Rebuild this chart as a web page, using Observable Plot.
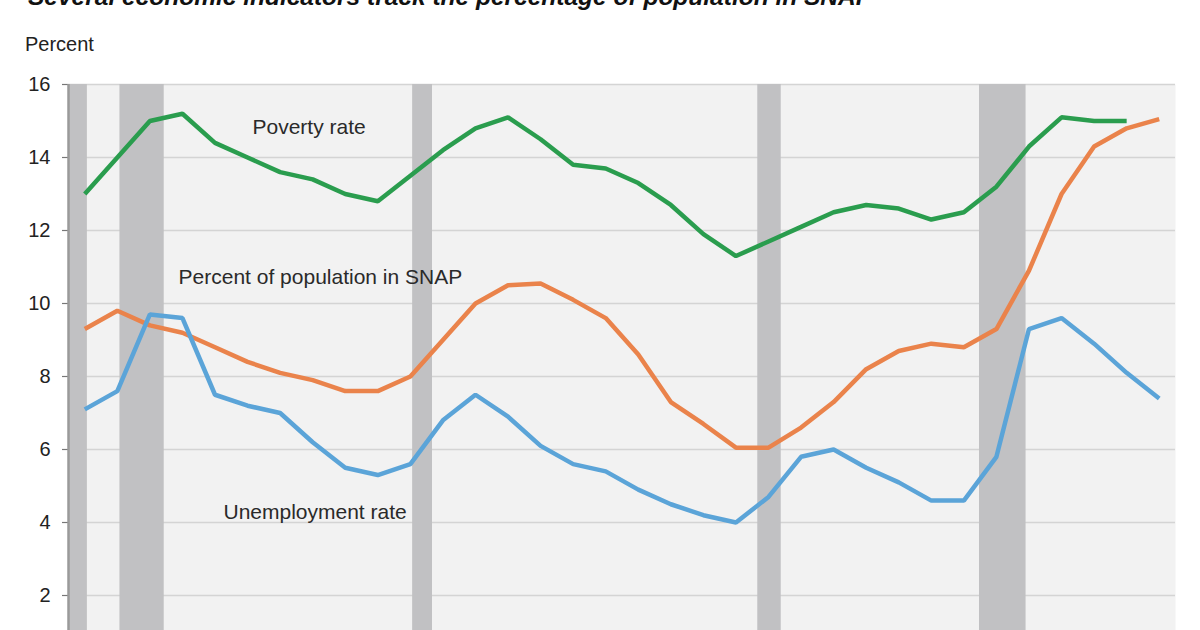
<!DOCTYPE html>
<html>
<head>
<meta charset="utf-8">
<script src="https://cdn.jsdelivr.net/npm/d3@7"></script>
<script src="https://cdn.jsdelivr.net/npm/@observablehq/plot@0.6"></script>
<style>
  html, body { margin: 0; padding: 0; background: #fff; width: 1200px; height: 630px; overflow: hidden; }
  body { font-family: "Liberation Sans", Arial, Helvetica, sans-serif; position: relative; }
  #title { position: absolute; left: 28px; top: -15px; font-size: 24.5px; line-height: 24.5px; font-weight: bold; font-style: italic; color: #111; white-space: nowrap; }
  #unit { position: absolute; left: 25px; top: 34px; font-size: 20px; line-height: 20px; color: #222; }
  #chart { position: absolute; left: 0; top: 0; }
</style>
</head>
<body>
<div id="chart"></div>
<div id="title">Several economic indicators track the percentage of population in SNAP</div>
<div id="unit">Percent</div>
<script>
const years = d3.range(1980, 2014);
const povertyRate = [13.0, 14.0, 15.0, 15.2, 14.4, 14.0, 13.6, 13.4, 13.0, 12.8,
  13.5, 14.2, 14.8, 15.1, 14.5, 13.8, 13.7, 13.3, 12.7, 11.9,
  11.3, 11.7, 12.1, 12.5, 12.7, 12.6, 12.3, 12.5, 13.2, 14.3,
  15.1, 15.0, 15.0, null];
const snapPercent = [9.3, 9.8, 9.4, 9.2, 8.8, 8.4, 8.1, 7.9, 7.6, 7.6,
  8.0, 9.0, 10.0, 10.5, 10.55, 10.1, 9.6, 8.6, 7.3, 6.7,
  6.05, 6.05, 6.6, 7.3, 8.2, 8.7, 8.9, 8.8, 9.3, 10.9,
  13.0, 14.3, 14.8, 15.05];
const unemploymentRate = [7.1, 7.6, 9.7, 9.6, 7.5, 7.2, 7.0, 6.2, 5.5, 5.3,
  5.6, 6.8, 7.5, 6.9, 6.1, 5.6, 5.4, 4.9, 4.5, 4.2,
  4.0, 4.7, 5.8, 6.0, 5.5, 5.1, 4.6, 4.6, 5.8, 9.3,
  9.6, 8.9, 8.1, 7.4];

const recessionStarts = [1980.0, 1981.58, 1990.57, 2001.17, 2007.98];
const recessionEnds   = [1980.58, 1982.94, 1991.18, 2001.89, 2009.41];

const seriesNames  = ["Poverty rate", "Percent of population in SNAP", "Unemployment rate"];
const seriesColors = ["#2a9d4e", "#ea834b", "#5ba4d8"];
const labelYears   = [1985.65, 1983.38, 1984.76];
const labelValues  = [14.84, 10.73, 4.27];
const yTicks = [2, 4, 6, 8, 10, 12, 14, 16];

const seriesValues = [povertyRate, snapPercent, unemploymentRate];
const rows = seriesNames.flatMap((name, i) =>
  years.map((year, j) => ({series: name, year, value: seriesValues[i][j]}))
    .filter(d => d.value != null));
const recessions = recessionStarts.map((s, i) => ({start: s, end: recessionEnds[i]}));
const labels = seriesNames.map((name, i) => ({name, year: labelYears[i], value: labelValues[i]}));

const chart = Plot.plot({
  width: 1200,
  height: 700,
  marginLeft: 68,
  marginRight: 25,
  marginTop: 84,
  marginBottom: 32,
  style: {fontFamily: "'Liberation Sans', Arial, sans-serif", background: "transparent"},
  x: {domain: [1980, 2014], axis: null},
  y: {domain: [0, 16], ticks: yTicks, axis: null},
  color: {domain: seriesNames, range: seriesColors},
  marks: [
    Plot.frame({fill: "#f2f2f2", stroke: null}),
    Plot.gridY(yTicks, {stroke: "#d4d4d4", strokeOpacity: 1, strokeWidth: 1.5}),
    Plot.rectX(recessions, {x1: "start", x2: "end", y1: 0, y2: 16, fill: "#c1c1c3"}),
    Plot.axisY(yTicks, {label: null, tickSize: 6, tickPadding: 12, fontSize: 20, fill: "#222", stroke: "#777", strokeWidth: 1.2}),
    Plot.ruleX([1980], {stroke: "#9a9a9a", strokeWidth: 2.5, y1: 0, y2: 16}),
    Plot.line(rows, {x: d => d.year + 0.5, y: "value", z: "series", stroke: "series", strokeWidth: 4.5, strokeLinejoin: "miter", strokeLinecap: "butt"}),
    Plot.text(labels, {x: "year", y: "value", text: "name", textAnchor: "start", fontSize: 21, fill: "#2a2a2a"})
  ]
});
document.getElementById("chart").appendChild(chart);
</script>
</body>
</html>
